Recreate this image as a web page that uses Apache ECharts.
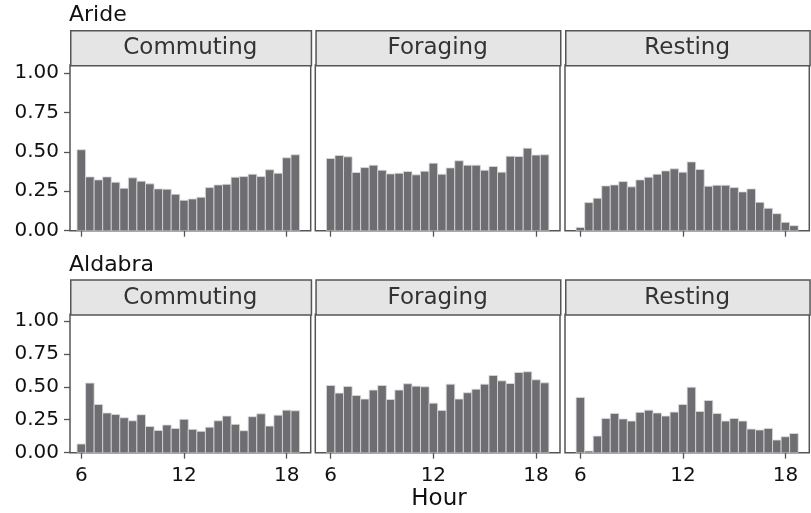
<!DOCTYPE html>
<html><head><meta charset="utf-8">
<script src="https://cdn.jsdelivr.net/npm/echarts@6/dist/echarts.min.js"></script>
<style>html,body{margin:0;padding:0;background:#fff}#c{width:811px;height:513px}</style>
</head><body><div id="c"></div>
<script>
// ---- data ----
const hours = [6,6.5,7,7.5,8,8.5,9,9.5,10,10.5,11,11.5,12,12.5,13,13.5,14,14.5,15,15.5,16,16.5,17,17.5,18,18.5];
const sites = ['Aride','Aldabra'];
const behaviours = ['Commuting','Foraging','Resting'];
const arideCommuting = [0.513,0.341,0.322,0.341,0.307,0.269,0.335,0.314,0.297,0.265,0.263,0.231,0.193,0.201,0.212,0.273,0.290,0.294,0.339,0.343,0.358,0.343,0.386,0.364,0.462,0.481];
const arideForaging  = [0.458,0.477,0.468,0.369,0.400,0.415,0.383,0.360,0.364,0.375,0.354,0.377,0.428,0.358,0.398,0.443,0.415,0.415,0.383,0.407,0.371,0.472,0.470,0.523,0.479,0.481];
const arideResting   = [0.021,0.178,0.206,0.284,0.290,0.311,0.278,0.322,0.339,0.358,0.379,0.392,0.371,0.436,0.388,0.282,0.288,0.288,0.273,0.246,0.265,0.180,0.142,0.108,0.053,0.032];
const aldabraCommuting = [0.066,0.528,0.366,0.301,0.290,0.265,0.242,0.288,0.199,0.169,0.210,0.184,0.253,0.177,0.162,0.194,0.242,0.278,0.215,0.167,0.273,0.295,0.202,0.285,0.323,0.318];
const aldabraForaging  = [0.510,0.452,0.503,0.434,0.407,0.475,0.510,0.404,0.475,0.523,0.505,0.500,0.376,0.321,0.520,0.407,0.455,0.482,0.520,0.586,0.545,0.525,0.609,0.614,0.553,0.530];
const aldabraResting   = [0.419,0.013,0.126,0.260,0.298,0.256,0.240,0.306,0.323,0.301,0.278,0.308,0.366,0.497,0.313,0.396,0.298,0.240,0.260,0.240,0.179,0.172,0.184,0.096,0.121,0.146];
const yTicks = [0, 0.25, 0.5, 0.75, 1.0];
const xTicks = [6, 12, 18];
const xTitle = 'Hour';

const panelData = [
  [arideCommuting, arideForaging, arideResting],
  [aldabraCommuting, aldabraForaging, aldabraResting]
];

// ---- layout ----
const FONT = 'DejaVu Sans';
const cols = [
  {left: 70, width: 240.7, xmin: 5.34},
  {left: 315.3, width: 244.7, xmin: 5.1},
  {left: 565, width: 244.3, xmin: 5.1}
];
const XMAX = 19.4, YMAX = 1.05;
const rows = [
  {top: 65, height: 165.7, stripTop: 30, titleY: 4},
  {top: 314.3, height: 138.4, stripTop: 279.3, titleY: 254}
];
const BORDER = '#555555';

const grids = [], xAxes = [], yAxes = [], series = [], graphics = [];
let gi = 0;
rows.forEach((r, ri) => {
  graphics.push({type: 'text', left: 69, top: r.titleY,
    style: {text: sites[ri], font: '22px "' + FONT + '"', fill: '#111'}});
  cols.forEach((c, ci) => {
    grids.push({left: c.left, top: r.top, width: c.width, height: r.height,
      show: true, borderColor: BORDER, borderWidth: 1.5, backgroundColor: '#fff', containLabel: false});
    xAxes.push({type: 'value', gridIndex: gi, min: c.xmin, max: XMAX,
      axisLine: {show: false}, splitLine: {show: false},
      axisTick: {show: true, length: 6, lineStyle: {color: BORDER, width: 1.3}, customValues: xTicks},
      axisLabel: {show: ri === 1, customValues: xTicks, margin: 13, color: '#111',
        fontFamily: FONT, fontSize: 20}});
    yAxes.push({type: 'value', gridIndex: gi, min: 0, max: YMAX,
      axisLine: {show: false}, splitLine: {show: false},
      axisTick: {show: ci === 0, length: 6, lineStyle: {color: BORDER, width: 1.3}, customValues: yTicks},
      axisLabel: {show: ci === 0, customValues: yTicks, margin: 11, color: '#111',
        fontFamily: FONT, fontSize: 20, formatter: v => v.toFixed(2)}});
    const vals = panelData[ri][ci];
    series.push({type: 'custom', xAxisIndex: gi, yAxisIndex: gi, clip: true,
      data: hours.map((h, i) => [h, vals[i]]),
      renderItem: (params, api) => {
        const x = api.value(0), v = api.value(1);
        const a = api.coord([x - 0.25, v]);
        const b = api.coord([x + 0.25, 0]);
        return {type: 'rect', shape: {x: a[0], y: a[1], width: b[0] - a[0], height: b[1] - a[1]},
          style: {fill: '#6e6e72', stroke: '#dcdcdc', lineWidth: 0.8}};
      }});
    // strip
    graphics.push({type: 'rect', left: c.left, top: r.stripTop,
      shape: {width: c.width, height: r.top - r.stripTop},
      style: {fill: '#e5e5e5', stroke: BORDER, lineWidth: 1.5}});
    graphics.push({type: 'text', x: c.left + c.width / 2, y: (r.stripTop + r.top) / 2 + 1,
      style: {text: behaviours[ci], font: '23px "' + FONT + '"', fill: '#333',
        textAlign: 'center', textVerticalAlign: 'middle'}});
    gi++;
  });
});
graphics.push({type: 'text', x: 439, y: 499, style: {text: xTitle, font: '23px "' + FONT + '"',
  fill: '#111', textAlign: 'center', textVerticalAlign: 'middle'}});

const chart = echarts.init(document.getElementById('c'), null, {renderer: 'canvas'});
chart.setOption({animation: false, backgroundColor: '#fff',
  grid: grids, xAxis: xAxes, yAxis: yAxes, series: series, graphic: graphics});
</script></body></html>
